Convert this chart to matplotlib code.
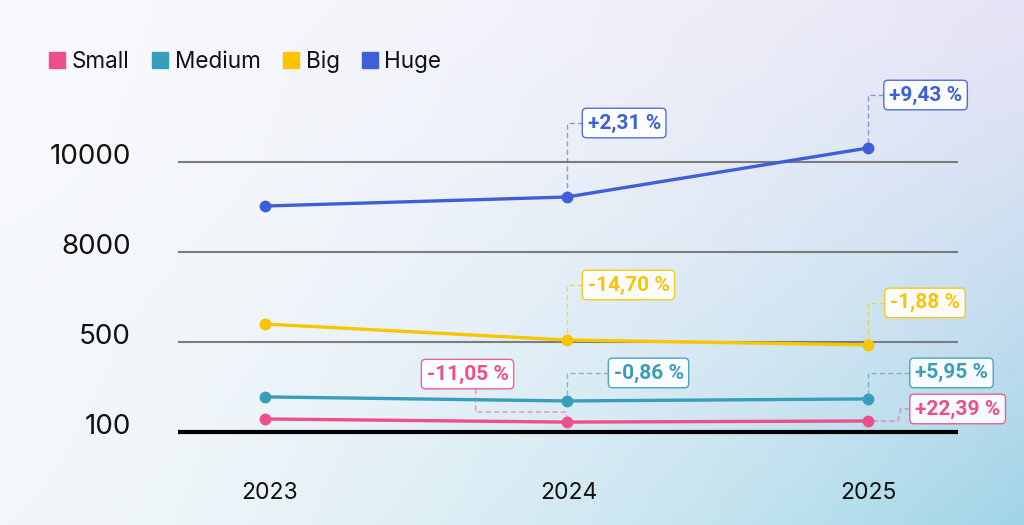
import numpy as np
import matplotlib
matplotlib.use('Agg')
import matplotlib.pyplot as plt
import matplotlib.transforms as mtransforms
from matplotlib.lines import Line2D

plt.rcParams['font.family'] = ['Inter', 'DejaVu Sans']

# data
years = ['2023', '2024', '2025']
small = [158, 144, 149]
medium = [256, 238, 247]
big = [2000, 667, 487]
huge = [9022, 9222, 10311]
y_ticks = [100, 500, 8000, 10000]

labels_small = ['-11,05 %', '+22,39 %']
labels_medium = ['-0,86 %', '+5,95 %']
labels_big = ['-14,70 %', '-1,88 %']
labels_huge = ['+2,31 %', '+9,43 %']

c_small = '#ee4f8c'
c_medium = '#3a9db9'
c_big = '#f7c600'
c_huge = '#3f5fd9'

# tick values sit evenly spaced on the axis
scale_vals = [0, 100, 500, 8000, 10000, 12000]
scale_pos = [-0.25, 0, 1, 2, 3, 4]


def fwd(v):
    return np.interp(v, scale_vals, scale_pos)


def inv(p):
    return np.interp(p, scale_pos, scale_vals)


fig = plt.figure(figsize=(10.24, 5.25), dpi=100)

# gradient background
bg = fig.add_axes([0, 0, 1, 1], zorder=-10)
gx, gy = np.meshgrid(np.linspace(0, 1, 300), np.linspace(0, 1, 160))
tl = np.array([248, 249, 252]) / 255
tr = np.array([230, 228, 246]) / 255
bl = np.array([242, 247, 250]) / 255
br = np.array([160, 213, 231]) / 255
wx = gx[..., None] ** 1.6
wy = gy[..., None] ** 1.3
img = (tl * (1 - wx) + tr * wx) * (1 - wy) + (bl * (1 - wx) + br * wx) * wy
bg.imshow(img, aspect='auto', extent=[0, 1, 0, 1], origin='upper')
bg.axis('off')

ax = fig.add_axes([178 / 1024, 93 / 525, 780 / 1024, 332 / 525])
ax.set_facecolor('none')
ax.set_yscale('function', functions=(fwd, inv))
ax.set_xlim(-0.2886, 2.2985)
ax.set_ylim(100, 11378)

for t in y_ticks[1:]:
    ax.axhline(t, color='#7c7c7c', lw=1.5, zorder=1)
ax.axhline(100, color='black', lw=3.0, zorder=1, clip_on=False, solid_capstyle='butt')

x = np.arange(len(years))
series = [(small, c_small, 'Small'), (medium, c_medium, 'Medium'),
          (big, c_big, 'Big'), (huge, c_huge, 'Huge')]
for vals, col, name in series:
    ax.plot(x, vals, color=col, lw=2.4, marker='o', markersize=7.5,
            solid_capstyle='round', zorder=3)

ax.set_yticks(y_ticks)
ax.set_yticklabels([str(t) for t in y_ticks], fontsize=20, color='#111111')
ax.set_xticks(x)
ax.set_xticklabels(years, fontsize=16.5, color='#111111')
ax.tick_params(axis='y', length=0, pad=34)
ax.tick_params(axis='x', length=0, pad=36)
for s in ax.spines.values():
    s.set_visible(False)

# y labels sit a little above their lines
up = mtransforms.ScaledTranslation(0, 6 / 72, fig.dpi_scale_trans)
for lbl in ax.get_yticklabels():
    lbl.set_transform(lbl.get_transform() + up)
# year labels are nudged right a bit in the original
nudge = [5, 2, 0]
for lbl, n in zip(ax.get_xticklabels(), nudge):
    lbl.set_transform(lbl.get_transform() + mtransforms.ScaledTranslation(n / 100, 0, fig.dpi_scale_trans))


def note(i, vals, text, col, dx, dy, ha='left', conn=None, relpos=(0.5, 0.5)):
    if conn is None:
        conn = 'angle,angleA=0,angleB=90,rad=0'
    ax.annotate(text, xy=(i, vals[i]), xytext=(dx, dy), textcoords='offset pixels',
                ha=ha, va='center', fontsize=15, fontweight='bold', color=col,
                family=['Roboto', 'DejaVu Sans'],
                bbox=dict(boxstyle='round,pad=0.25,rounding_size=0.2', fc=(1, 1, 1, 0.45),
                          ec=col, lw=1, alpha=0.9),
                arrowprops=dict(arrowstyle='-', color=col, alpha=0.6, lw=1,
                                linestyle=(0, (3, 3)), shrinkA=0, shrinkB=0,
                                connectionstyle=conn, relpos=relpos),
                zorder=4)


note(1, huge, labels_huge[0], c_huge, 21, 74)
note(2, huge, labels_huge[1], c_huge, 21, 53)
note(1, big, labels_big[0], c_big, 21, 55)
note(2, big, labels_big[1], c_big, 22, 42)
note(1, medium, labels_medium[0], c_medium, 47, 28)
note(2, medium, labels_medium[1], c_medium, 47, 26)
note(1, small, labels_small[0], c_small, -99, 48, ha='center',
     conn='arc,angleA=-90,angleB=90,armA=38,armB=10,rad=0', relpos=(0.6, 0.5))
note(2, small, labels_small[1], c_small, 47, 12,
     conn='arc,angleA=180,angleB=0,armA=57,armB=30,rad=0')

handles = [Line2D([], [], marker='s', linestyle='none', markersize=11, color=c)
           for _, c, _ in series]
fig.legend(handles, [n for _, _, n in series], loc='center left',
           bbox_to_anchor=(28 / 1024, 1 - 62 / 525), frameon=False, ncol=4,
           fontsize=16.2, handlelength=0.8, handletextpad=0.25, columnspacing=0.95,
           labelcolor='#111111')

fig.savefig('out.png', dpi=100)
